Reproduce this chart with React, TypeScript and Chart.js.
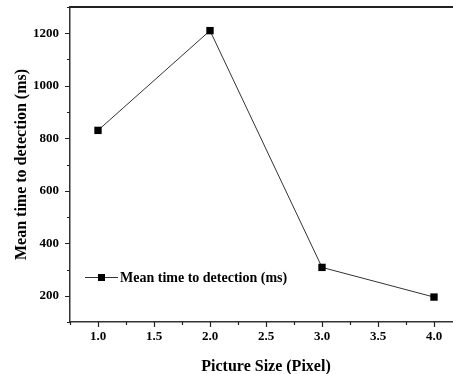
import React, { useEffect, useRef } from "react";
import { Chart, registerables } from "chart.js";

Chart.register(...registerables);

const pictureSizes = [1.0, 2.0, 3.0, 4.0];
const meanTimes = [830, 1210, 308, 195];
const seriesLabel = "Mean time to detection (ms)";
const xTitle = "Picture Size (Pixel)";
const yTitle = "Mean time to detection (ms)";
const xMajorTicks = [1.0, 1.5, 2.0, 2.5, 3.0, 3.5, 4.0];
const xMinorTicks = [0.75, 1.25, 1.75, 2.25, 2.75, 3.25, 3.75, 4.25];
const yMajorTicks = [200, 400, 600, 800, 1000, 1200];
const yMinorTicks = [100, 300, 500, 700, 900, 1100, 1300];

const FONT = '"Liberation Serif", "Times New Roman", serif';

export default function App() {
  const ref = useRef<HTMLCanvasElement | null>(null);

  useEffect(() => {
    if (!ref.current) return;
    const decor = {
      id: "decor",
      afterDraw(chart: any) {
        const { ctx, chartArea } = chart;
        const xs = chart.scales.x;
        const ys = chart.scales.y;
        ctx.save();
        ctx.strokeStyle = "#222";
        // top border
        ctx.lineWidth = 2;
        ctx.beginPath();
        ctx.moveTo(chartArea.left, chartArea.top);
        ctx.lineTo(chartArea.right + 10, chartArea.top);
        ctx.stroke();
        // ticks
        ctx.lineWidth = 1.2;
        ctx.beginPath();
        yMajorTicks.forEach((v) => {
          const y = Math.round(ys.getPixelForValue(v)) + 0.5;
          ctx.moveTo(chartArea.left - 5, y);
          ctx.lineTo(chartArea.left, y);
        });
        yMinorTicks.forEach((v) => {
          const y = Math.round(ys.getPixelForValue(v)) + 0.5;
          ctx.moveTo(chartArea.left - 3, y);
          ctx.lineTo(chartArea.left, y);
        });
        xMajorTicks.forEach((v) => {
          const x = Math.round(xs.getPixelForValue(v)) + 0.5;
          ctx.moveTo(x, chartArea.bottom);
          ctx.lineTo(x, chartArea.bottom + 5);
        });
        xMinorTicks.forEach((v) => {
          const x = Math.round(xs.getPixelForValue(v)) + 0.5;
          ctx.moveTo(x, chartArea.bottom);
          ctx.lineTo(x, chartArea.bottom + 3);
        });
        ctx.stroke();
        // legend
        const ly = chartArea.bottom - 45;
        const lx = chartArea.left + 15;
        ctx.strokeStyle = "#333";
        ctx.lineWidth = 1;
        ctx.beginPath();
        ctx.moveTo(lx, ly + 0.5);
        ctx.lineTo(lx + 33, ly + 0.5);
        ctx.stroke();
        ctx.fillStyle = "#000";
        ctx.fillRect(lx + 13, ly - 3, 7, 7);
        ctx.font = `bold 14px ${FONT}`;
        ctx.textBaseline = "middle";
        ctx.textAlign = "left";
        ctx.fillText(seriesLabel, lx + 35, ly + 1);
        ctx.restore();
      },
    };

    const chart = new Chart(ref.current, {
      type: "line",
      data: {
        datasets: [
          {
            label: seriesLabel,
            data: pictureSizes.map((x, i) => ({ x, y: meanTimes[i] })),
            borderColor: "#333",
            borderWidth: 1,
            pointStyle: "rect",
            pointRadius: 5.2,
            pointBackgroundColor: "#000",
            pointBorderColor: "#000",
            pointBorderWidth: 0,
            tension: 0,
          },
        ],
      },
      options: {
        animation: false,
        responsive: false,
        layout: { padding: { left: 0, top: 7, right: 8, bottom: 0 } },
        plugins: { legend: { display: false }, tooltip: { enabled: false } },
        scales: {
          x: {
            type: "linear",
            min: 0.75,
            max: 4.25,
            grid: { drawOnChartArea: false, drawTicks: false },
            border: { display: true, color: "#333", width: 1.5 },
            afterBuildTicks: (s: any) => {
              s.ticks = xMajorTicks.map((v) => ({ value: v }));
            },
            afterFit: (s: any) => {
              s.height = 52;
              s.paddingLeft = 0;
              s.paddingRight = 0;
            },
            ticks: {
              color: "#000",
              padding: 7,
              maxRotation: 0,
              font: { family: FONT, size: 13, weight: "bold" },
              callback: (v: any) => Number(v).toFixed(1),
            },
            title: {
              display: true,
              text: xTitle,
              color: "#000",
              padding: { top: 0, bottom: -2 },
              font: { family: FONT, size: 16, weight: "bold" },
            },
          },
          y: {
            type: "linear",
            min: 100,
            max: 1300,
            grid: { drawOnChartArea: false, drawTicks: false },
            border: { display: true, color: "#333", width: 1.5 },
            afterBuildTicks: (s: any) => {
              s.ticks = yMajorTicks.map((v) => ({ value: v }));
            },
            afterFit: (s: any) => {
              s.width = 70;
              s.paddingTop = 0;
              s.paddingBottom = 0;
            },
            ticks: {
              color: "#000",
              padding: 11,
              font: { family: FONT, size: 13, weight: "bold" },
              callback: (v: any) => String(v),
            },
            title: {
              display: true,
              text: yTitle,
              color: "#000",
              padding: { top: 12, bottom: 0 },
              font: { family: FONT, size: 16, weight: "bold" },
            },
          },
        },
      },
      plugins: [decor],
    } as any);
    return () => chart.destroy();
  }, []);

  return (
    <div
      style={{
        position: "fixed",
        left: 0,
        top: 0,
        width: 453,
        height: 374,
        overflow: "hidden",
        background: "#fff",
      }}
    >
      <canvas ref={ref} width={470} height={374} style={{ display: "block" }} />
    </div>
  );
}
